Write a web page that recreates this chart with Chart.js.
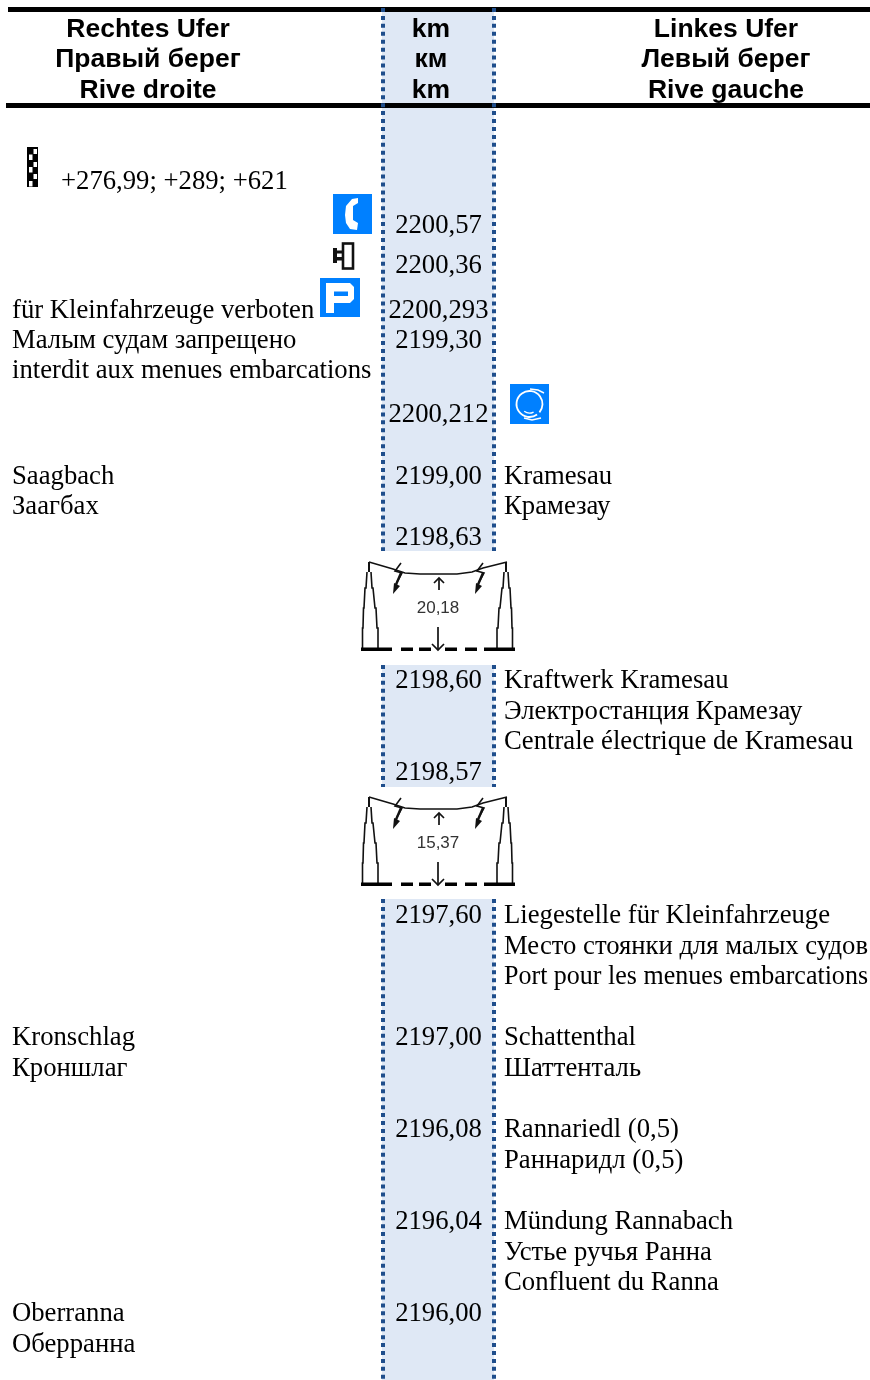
<!DOCTYPE html>
<html>
<head>
<meta charset="utf-8">
<style>
html, body { margin: 0; padding: 0; background: #fff; overflow: hidden; }
canvas { display: block; }
</style>
<script src="https://cdn.jsdelivr.net/npm/chart.js@4/dist/chart.umd.js"></script>
</head>
<body>
<canvas id="atlas" width="870" height="1380"></canvas>
<script>
//header
var headerRight = ['Rechtes Ufer', 'Правый берег', 'Rive droite'];
var headerKm = ['km', 'км', 'km'];
var headerLeft = ['Linkes Ufer', 'Левый берег', 'Rive gauche'];
var headerRows = [37, 67, 98];

//kilometre column
var kmLabels = ['2200,57', '2200,36', '2200,293', '2199,30', '2200,212', '2199,00', '2198,63',
                '2198,60', '2198,57', '2197,60', '2197,00', '2196,08', '2196,04', '2196,00'];
var kmRows = [233, 273, 318, 348, 422, 484, 545, 688, 780, 923, 1045, 1137, 1229, 1321];

//right bank
var rightLabels = ['für Kleinfahrzeuge verboten', 'Малым судам запрещено', 'interdit aux menues embarcations',
                   'Saagbach', 'Заагбах', 'Kronschlag', 'Кроншлаг', 'Oberranna', 'Оберранна'];
var rightRows = [318, 348, 378, 484, 514, 1045, 1076, 1321, 1352];
var checkLabel = '+276,99; +289; +621';
var checkRow = 189;

//left bank
var leftLabels = ['Kramesau', 'Крамезау', 'Kraftwerk Kramesau', 'Электростанция Крамезау',
                  'Centrale électrique de Kramesau', 'Liegestelle für Kleinfahrzeuge', 'Место стоянки для малых судов',
                  'Port pour les menues embarcations', 'Schattenthal', 'Шаттенталь', 'Rannariedl (0,5)', 'Раннаридл (0,5)',
                  'Mündung Rannabach', 'Устье ручья Ранна', 'Confluent du Ranna'];
var leftRows = [484, 514, 688, 719, 749, 923, 954, 984, 1045, 1076, 1137, 1168, 1229, 1260, 1290];

//bridges
var bridgeHeights = ['20,18', '15,37'];
var bridgeRows = [608, 843];
var bridgeLabelRows = [613, 848];

//river band pieces (top, bottom)
var bandTops = [8, 665, 899];
var bandBottoms = [551, 787, 1380];

//rules
var ruleRows = [9.5, 105.5];
var ruleStarts = [8, 6];

//columns on the x scale
var colRight = 12, colCheck = 61, colKm = 438.5, colLeft = 504;
var headRight = 148, headKm = 431, headLeft = 726;
var bandLeft = 382, bandRight = 494, dotLeft = 383, dotRight = 494;

var BLUE = '#0080ff';

function makeIcon (w, h, draw) {
    var c = document.createElement('canvas');
    c.width = w;
    c.height = h;
    draw(c.getContext('2d'));
    return c;
}

function poly (ctx, pts, close) {
    ctx.beginPath();
    ctx.moveTo(pts[0][0], pts[0][1]);
    for (var i = 1; i < pts.length; i++) {
        ctx.lineTo(pts[i][0], pts[i][1]);
    }
    if (close) ctx.closePath();
}

var phoneIcon = makeIcon(40, 40, function (ctx) {
    ctx.fillStyle = BLUE;
    ctx.fillRect(0, 0, 39, 40);
    ctx.fillStyle = '#fff';
    poly(ctx, [[19, 5], [25, 4], [25, 9], [20, 12], [20, 26], [25, 29], [24, 36], [17, 35], [13, 29], [12, 21], [13, 12]], true);
    ctx.fill();
});

var parkIcon = makeIcon(40, 40, function (ctx) {
    ctx.fillStyle = BLUE;
    ctx.fillRect(0, 0, 40, 39);
    ctx.fillStyle = '#fff';
    poly(ctx, [[6, 5], [30, 5], [34, 9], [34, 21], [30, 25], [14, 25], [14, 35], [6, 35]], true);
    ctx.fill();
    ctx.fillStyle = BLUE;
    ctx.fillRect(14, 13.5, 14, 4.5);
});

var turnIcon = makeIcon(40, 40, function (ctx) {
    ctx.fillStyle = BLUE;
    ctx.fillRect(0, 0, 39, 40);
    ctx.strokeStyle = '#fff';
    ctx.lineWidth = 1.8;
    ctx.beginPath();
    ctx.arc(19.5, 20, 13, 0.95, 2.0 * Math.PI + 0.7);
    ctx.stroke();
    ctx.lineWidth = 1.4;
    ctx.beginPath();
    ctx.arc(19.5, 20, 9, 1.1, 2.2);
    ctx.stroke();
    poly(ctx, [[20, 5], [28, 6], [34, 9]], false);
    ctx.stroke();
    poly(ctx, [[14, 34], [22, 36], [31, 34]], false);
    ctx.stroke();
});

var berthIcon = makeIcon(22, 28, function (ctx) {
    ctx.strokeStyle = '#111';
    ctx.lineWidth = 2.6;
    ctx.strokeRect(10, 1.5, 10, 25);
    ctx.fillStyle = '#111';
    ctx.fillRect(0, 6, 4, 15);
    ctx.fillRect(4, 8.5, 6, 3);
    ctx.fillRect(4, 15, 6, 3.5);
});

var checkIcon = makeIcon(12, 40, function (ctx) {
    ctx.fillStyle = '#000';
    ctx.fillRect(0, 0, 11, 40);
    ctx.fillStyle = '#fff';
    var rightCells = [2, 15, 27];
    var leftCells = [7.5, 20, 34];
    for (var i = 0; i < 3; i++) {
        ctx.fillRect(6.5, rightCells[i], 3.5, 5);
        ctx.fillRect(2, leftCells[i], 3.5, 5.5);
    }
});

function drawBolt (ctx, x) {
    ctx.lineWidth = 1.6;
    poly(ctx, [[x + 3, 3], [x - 3, 11], [x + 4, 13], [x - 1, 22]], false);
    ctx.stroke();
    poly(ctx, [[x - 5, 34], [x - 4, 23], [x + 2, 26]], true);
    ctx.fill();
    ctx.lineWidth = 2.4;
    poly(ctx, [[x + 3, 13], [x - 3, 27]], false);
    ctx.stroke();
}

function drawPylon (ctx, x, side) {
    //stepped outline, narrower at the top; side mirrors the right hand mast
    var l = [[x - 2, 12], [x - 3, 28], [x - 4, 28], [x - 5, 48], [x - 5.5, 48], [x - 6, 68], [x - 6.5, 68], [x - 6.5, 88]];
    var r = [[x + 2, 12], [x + 3, 28], [x + 4, 28], [x + 6, 48], [x + 7, 48], [x + 8, 68], [x + 9, 68], [x + 9, 88]];
    var flip = function (p) { return [x + side * (p[0] - x), p[1]]; };
    ctx.lineWidth = 1.6;
    poly(ctx, l.map(flip), false);
    ctx.stroke();
    poly(ctx, r.map(flip), false);
    ctx.stroke();
    ctx.lineWidth = 2;
    poly(ctx, [[x, 2], [x, 12]], false);
    ctx.stroke();
}

var bridgeIcon = makeIcon(160, 96, function (ctx) {
    ctx.strokeStyle = '#111';
    ctx.fillStyle = '#111';
    ctx.lineWidth = 1.4;
    poly(ctx, [[9, 2], [33, 9], [45, 13], [60, 14], [97, 14], [112, 12], [123, 8], [147, 2]], false);
    ctx.stroke();
    drawPylon(ctx, 9, 1);
    drawPylon(ctx, 146, -1);
    drawBolt(ctx, 38);
    drawBolt(ctx, 120);
    //arrows to the clearance figure
    ctx.lineWidth = 1.7;
    poly(ctx, [[79, 30], [79, 18]], false);
    ctx.stroke();
    poly(ctx, [[74, 23], [79, 18], [84, 23]], false);
    ctx.stroke();
    poly(ctx, [[78, 67], [78, 90]], false);
    ctx.stroke();
    poly(ctx, [[72, 84], [78, 90], [84, 84]], false);
    ctx.stroke();
    //water line
    ctx.fillStyle = '#000';
    var dashes = [[1, 31], [41, 12], [59, 12], [85, 12], [105, 12], [124, 31]];
    for (var i = 0; i < dashes.length; i++) {
        ctx.fillRect(dashes[i][0], 87.5, dashes[i][1], 3.5);
    }
});

function pointSet (x, y, icon) {
    return { data: [{ x: x, y: y }], pointStyle: icon, pointRadius: 10, showLine: false, order: 0 };
}

function lineSet (pts, color, width, dash, order) {
    return {
        data: pts,
        showLine: true,
        borderColor: color,
        borderWidth: width,
        borderDash: dash || [],
        borderCapStyle: 'butt',
        pointRadius: 0,
        tension: 0,
        fill: false,
        order: order
    };
}

var datasets = [];

//band gets the highest order so it is painted first
for (var i = 0; i < bandTops.length; i++) {
    datasets.push({
        data: [{ x: bandLeft, y: bandTops[i] }, { x: bandRight, y: bandTops[i] },
               { x: bandRight, y: bandBottoms[i] }, { x: bandLeft, y: bandBottoms[i] },
               { x: bandLeft, y: bandTops[i] }],
        showLine: true,
        borderWidth: 0,
        pointRadius: 0,
        tension: 0,
        backgroundColor: '#dfe8f5',
        fill: 'shape',
        order: 3
    });
}
for (var i = 0; i < ruleRows.length; i++) {
    datasets.push(lineSet([{ x: ruleStarts[i], y: ruleRows[i] }, { x: 870, y: ruleRows[i] }], '#000', 5, [], 2));
}
for (var i = 0; i < bandTops.length; i++) {
    datasets.push(lineSet([{ x: dotLeft, y: bandTops[i] }, { x: dotLeft, y: bandBottoms[i] }], '#1f4e8c', 4, [4, 3.93], 1));
    datasets.push(lineSet([{ x: dotRight, y: bandTops[i] }, { x: dotRight, y: bandBottoms[i] }], '#1f4e8c', 4, [4, 3.93], 1));
}

datasets.push(pointSet(33, 167, checkIcon));
datasets.push(pointSet(353, 214, phoneIcon));
datasets.push(pointSet(344, 256, berthIcon));
datasets.push(pointSet(340, 298, parkIcon));
datasets.push(pointSet(530, 404, turnIcon));
for (var i = 0; i < bridgeRows.length; i++) {
    datasets.push(pointSet(440, bridgeRows[i], bridgeIcon));
}

//all the wording goes through the same scales as the marks
var textPlugin = {
    id: 'atlasText',
    afterDatasetsDraw: function (chart) {
        var ctx = chart.ctx;
        var sx = chart.scales.x;
        var sy = chart.scales.y;
        var put = function (labels, rows, x, align, font, color) {
            ctx.font = font;
            ctx.textAlign = align;
            ctx.textBaseline = 'alphabetic';
            ctx.fillStyle = color;
            for (var i = 0; i < labels.length; i++) {
                ctx.fillText(labels[i], sx.getPixelForValue(x), sy.getPixelForValue(rows[i]), 364);
            }
        };
        var head = 'bold 26.5px "Liberation Sans"';
        var body = '26.7px "Liberation Serif"';
        ctx.save();
        put(headerRight, headerRows, headRight, 'center', head, '#000');
        put(headerKm, headerRows, headKm, 'center', head, '#000');
        put(headerLeft, headerRows, headLeft, 'center', head, '#000');
        put(kmLabels, kmRows, colKm, 'center', body, '#000');
        put(rightLabels, rightRows, colRight, 'left', body, '#000');
        put([checkLabel], [checkRow], colCheck, 'left', body, '#000');
        put(leftLabels, leftRows, colLeft, 'left', body, '#000');
        put(bridgeHeights, bridgeLabelRows, 438, 'center', '17px "Liberation Sans"', '#333');
        ctx.restore();
    }
};

new Chart(document.getElementById('atlas'), {
    type: 'scatter',
    data: { datasets: datasets },
    options: {
        responsive: false,
        animation: false,
        devicePixelRatio: 1,
        layout: { padding: 0, autoPadding: false },
        plugins: { legend: { display: false }, title: { display: false }, tooltip: { enabled: false } },
        scales: {
            x: { type: 'linear', min: 0, max: 870, display: false },
            y: { type: 'linear', min: 0, max: 1380, reverse: true, display: false }
        }
    },
    plugins: [textPlugin]
});
</script>
</body>
</html>
